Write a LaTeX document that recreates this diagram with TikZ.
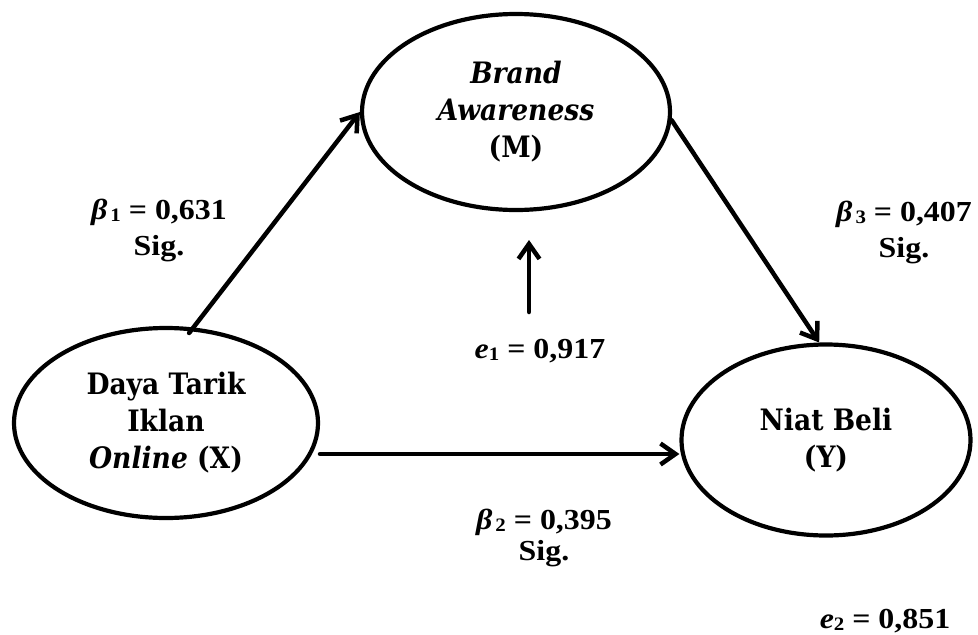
\documentclass[tikz,border=0pt]{standalone}
\usepackage{fontspec}
\usetikzlibrary{shapes.geometric,arrows.meta,calc}
\newfontfamily\nodefont[FakeStretch=0.9]{DejaVu Serif}
\newfontfamily\lblfont[FakeStretch=1.1]{Liberation Serif}
\newcommand\lsub[1]{\raisebox{-2pt}{\fontsize{19}{19}\selectfont #1}}
\begin{document}
\begin{tikzpicture}[x=1pt,y=-1pt,
  var/.style={ellipse, draw, line width=4.2pt, inner sep=0pt, align=center,
    font=\nodefont\bfseries\fontsize{29.5}{37}\selectfont},
  lbl/.style={align=center, inner sep=0pt,
    font=\lblfont\bfseries\fontsize{29}{36}\selectfont},
  conn/.style={line width=4.5pt, line cap=round, -{Straight Barb[length=15pt,width=21pt]}}]
\useasboundingbox (0,0) rectangle (978,635);
% variables
\node[var, minimum width=304pt, minimum height=190pt] (X) at (166,423)
  {Daya Tarik\\Iklan\\{\itshape Online} (X)};
\node[var, minimum width=308pt, minimum height=196pt] (M) at (516,112)
  {{\itshape Brand}\\{\itshape Awareness}\\(M)};
\node[var, minimum width=289pt, minimum height=191pt] (Y) at (826,440)
  {Niat Beli\\(Y)};
% labels
\node[lbl] (b1) at (159,230) {{\itshape β}\hspace{3pt}\lsub{1} = 0,631\\Sig.};
\node[lbl] (b3) at (904,232) {{\itshape β}\hspace{3pt}\lsub{3} = 0,407\\Sig.};
\node[lbl, font=\lblfont\bfseries\fontsize{29}{31}\selectfont] (b2) at (544,538)
  {{\itshape β}\hspace{3pt}\lsub{2} = 0,395\\Sig.};
\node[lbl] (e1) at (540,351) {{\itshape e}\lsub{1} = 0,917};
\node[lbl] (e2) at (885,621) {{\itshape e}\lsub{2} = 0,851};
% connectors
\draw[conn, shorten <=-7pt] (X.74) -- (M.west);
\draw[conn] (M.-3) -- (Y.94);
\coordinate (hs) at (320,454);
\draw[conn] (hs) -- (hs -| Y.west);
\coordinate (e1s) at (529,312);
\coordinate (e1t) at (529,240);
\draw[conn] (e1s) -- (e1t);
\end{tikzpicture}
\end{document}
